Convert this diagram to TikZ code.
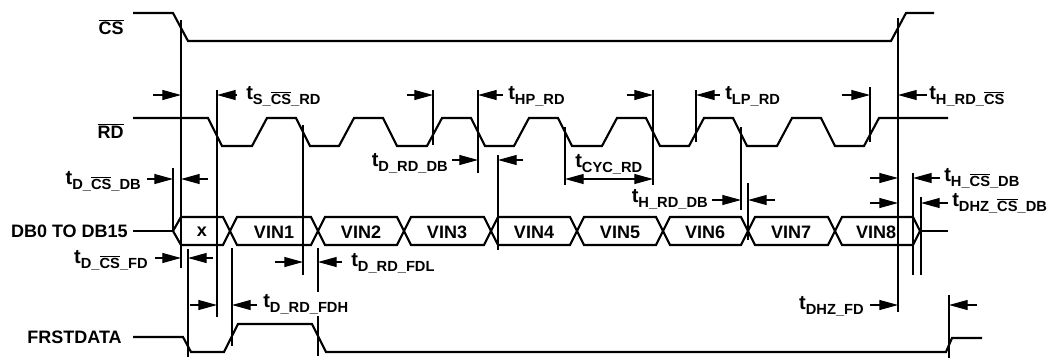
\documentclass[tikz,border=0pt]{standalone}
\usepackage{fontspec}
\setmainfont{Liberation Sans}
\usetikzlibrary{arrows.meta}

\newcommand{\ovl}[1]{$\overline{\mbox{#1}}$}
\newcommand{\tsub}[1]{{\fontsize{15}{15}\selectfont t}\raisebox{-0.5ex}{\fontsize{11}{11}\selectfont #1}}

\begin{document}
\begin{tikzpicture}[x=0.75pt, y=-0.75pt,
    every node/.style={font=\fontsize{13.5}{15}\selectfont\bfseries, inner sep=0pt},
    sig/.style={line width=1.6pt, line join=miter},
    guide/.style={line width=0.8pt},
    dim/.style={line width=0.8pt, -{Triangle[length=14pt,width=7.5pt]}},
    dimboth/.style={line width=0.8pt, {Triangle[length=14pt,width=7.5pt]}-{Triangle[length=14pt,width=7.5pt]}}]
        \useasboundingbox (0,0) rectangle (1049,358);

        % signal names
        \node[anchor=east] (cs) at (124,27) {\ovl{CS}};
        \node[anchor=east] (rd) at (124,131) {\ovl{RD}};
        \node[anchor=east] (db) at (128,231) {DB0 TO DB15};
        \node[anchor=east] (fd) at (122,337) {FRSTDATA};

        % CS
        \draw[sig] (133,13) -- (173,13) -- (188,41) -- (891,41) -- (906,13) -- (934,13);

        % RD
        \draw[sig] (133,118) -- (208,118) -- (222,146) -- (252,146) -- (267,118)
            -- (296,118) -- (310,146) -- (339,146) -- (354,118)
            -- (383,118) -- (397,146) -- (427,146) -- (442,118)
            -- (471,118) -- (485,146) -- (514,146) -- (529,118)
            -- (558,118) -- (572,146) -- (602,146) -- (617,118)
            -- (646,118) -- (660,146) -- (689,146) -- (704,118)
            -- (733,118) -- (747,146) -- (777,146) -- (792,118)
            -- (821,118) -- (835,146) -- (864,146) -- (879,118) -- (948,118);

        % data bus
        \draw[sig] (133,231) -- (173,231);
        \draw[sig] (173,231) -- (181,217) -- (223,217) -- (230,231) -- (223,245) -- (181,245) -- cycle;
        \draw[sig] (230,231) -- (237,217) -- (311,217) -- (318,231) -- (311,245) -- (237,245) -- cycle;
        \draw[sig] (318,231) -- (325,217) -- (397,217) -- (404,231) -- (397,245) -- (325,245) -- cycle;
        \draw[sig] (404,231) -- (411,217) -- (484,217) -- (491,231) -- (484,245) -- (411,245) -- cycle;
        \draw[sig] (491,231) -- (498,217) -- (570,217) -- (577,231) -- (570,245) -- (498,245) -- cycle;
        \draw[sig] (577,231) -- (584,217) -- (656,217) -- (663,231) -- (656,245) -- (584,245) -- cycle;
        \draw[sig] (663,231) -- (670,217) -- (741,217) -- (748,231) -- (741,245) -- (670,245) -- cycle;
        \draw[sig] (748,231) -- (755,217) -- (828,217) -- (835,231) -- (828,245) -- (755,245) -- cycle;
        \draw[sig] (835,231) -- (842,217) -- (913,217) -- (920,231) -- (913,245) -- (842,245) -- cycle;
        \draw[sig] (920,231) -- (948,231);

        \node (dx) at (202,232) {x};
        \node (d1) at (274,232) {VIN1};
        \node (d2) at (361,232) {VIN2};
        \node (d3) at (447,232) {VIN3};
        \node (d4) at (534,232) {VIN4};
        \node (d5) at (620,232) {VIN5};
        \node (d6) at (705,232) {VIN6};
        \node (d7) at (791,232) {VIN7};
        \node (d8) at (876,232) {VIN8};

        % FRSTDATA
        \draw[sig] (133,337) -- (183,337) -- (191,352) -- (224,352) -- (238,324) -- (312,324)
            -- (326,352) -- (946,352) -- (952,338) -- (982,338);

        % guide lines
        \draw[guide] (181,20) -- (181,268);
        \draw[guide] (173,168) -- (173,231);
        \draw[guide] (217,90) -- (217,317);
        \draw[guide] (188,249) -- (188,357);
        \draw[guide] (232,248) -- (232,346);
        \draw[guide] (303,125) -- (303,275);
        \draw[guide] (318,248) -- (318,292);
        \draw[guide] (318,316) -- (318,356);
        \draw[guide] (433,90) -- (433,145);
        \draw[guide] (478,90) -- (478,173);
        \draw[guide] (498,155) -- (498,250);
        \draw[guide] (565,127) -- (565,185);
        \draw[guide] (653,90) -- (653,185);
        \draw[guide] (696,90) -- (696,142);
        \draw[guide] (741,127) -- (741,210);
        \draw[guide] (748,183) -- (748,240);
        \draw[guide] (870,87) -- (870,142);
        \draw[guide] (898,18) -- (898,312);
        \draw[guide] (913,173) -- (913,275);
        \draw[guide] (921,197) -- (921,275);
        \draw[guide] (949,295) -- (949,358);

        % t S_CS_RD
        \draw[dim] (153,95) -- (181,95);
        \draw[dim] (237,95) -- (217,95);
        \node[anchor=west] (tscsrd) at (246,96) {\tsub{S\_\ovl{CS}\_RD}};

        % t D_CS_DB
        \draw[dim] (147,179) -- (173,179);
        \draw[dim] (208,179) -- (181,179);
        \node[anchor=east] (tdcsdb) at (141,181) {\tsub{D\_\ovl{CS}\_DB}};

        % t D_CS_FD
        \draw[dim] (155,258) -- (181,258);
        \draw[dim] (213,258) -- (188,258);
        \node[anchor=east] (tdcsfd) at (148,260) {\tsub{D\_\ovl{CS}\_FD}};

        % t D_RD_FDH
        \draw[dim] (190,305) -- (217,305);
        \draw[dim] (257,305) -- (232,305);
        \node[anchor=west] (tdrdfdh) at (263,304) {\tsub{D\_RD\_FDH}};

        % t D_RD_FDL
        \draw[dim] (275,262) -- (303,262);
        \draw[dim] (342,262) -- (318,262);
        \node[anchor=west] (tdrdfdl) at (351,263) {\tsub{D\_RD\_FDL}};

        % t HP_RD
        \draw[dim] (407,95) -- (433,95);
        \draw[dim] (503,95) -- (478,95);
        \node[anchor=west] (thprd) at (508,96) {\tsub{HP\_RD}};

        % t D_RD_DB
        \draw[dim] (452,160) -- (478,160);
        \draw[dim] (523,160) -- (498,160);
        \node[anchor=east] (tdrddb) at (448,163) {\tsub{D\_RD\_DB}};

        % t CYC_RD
        \draw[dimboth] (565,179) -- (653,179);
        \node[anchor=west] (tcycrd) at (575,164) {\tsub{CYC\_RD}};

        % t LP_RD
        \draw[dim] (627,95) -- (653,95);
        \draw[dim] (720,95) -- (696,95);
        \node[anchor=west] (tlprd) at (725,96) {\tsub{LP\_RD}};

        % t H_RD_DB
        \draw[dim] (712,200) -- (741,200);
        \draw[dim] (775,200) -- (748,200);
        \node[anchor=east] (threddb) at (708,199) {\tsub{H\_RD\_DB}};

        % t H_RD_CS
        \draw[dim] (842,95) -- (870,95);
        \draw[dim] (927,95) -- (898,95);
        \node[anchor=west] (thrdcs) at (929,96) {\tsub{H\_RD\_\ovl{CS}}};

        % t H_CS_DB
        \draw[dim] (870,178) -- (898,178);
        \draw[dim] (940,178) -- (913,178);
        \node[anchor=west] (thcsdb) at (944,178) {\tsub{H\_\ovl{CS}\_DB}};

        % t DHZ_CS_DB
        \draw[dim] (870,203) -- (898,203);
        \draw[dim] (948,203) -- (921,203);
        \node[anchor=west] (tdhzcsdb) at (952,203) {\tsub{DHZ\_\ovl{CS}\_DB}};

        % t DHZ_FD
        \draw[dim] (870,305) -- (898,305);
        \draw[dim] (977,305) -- (949,305);
        \node[anchor=east] (tdhzfd) at (864,306) {\tsub{DHZ\_FD}};
    \end{tikzpicture}
\end{document}
